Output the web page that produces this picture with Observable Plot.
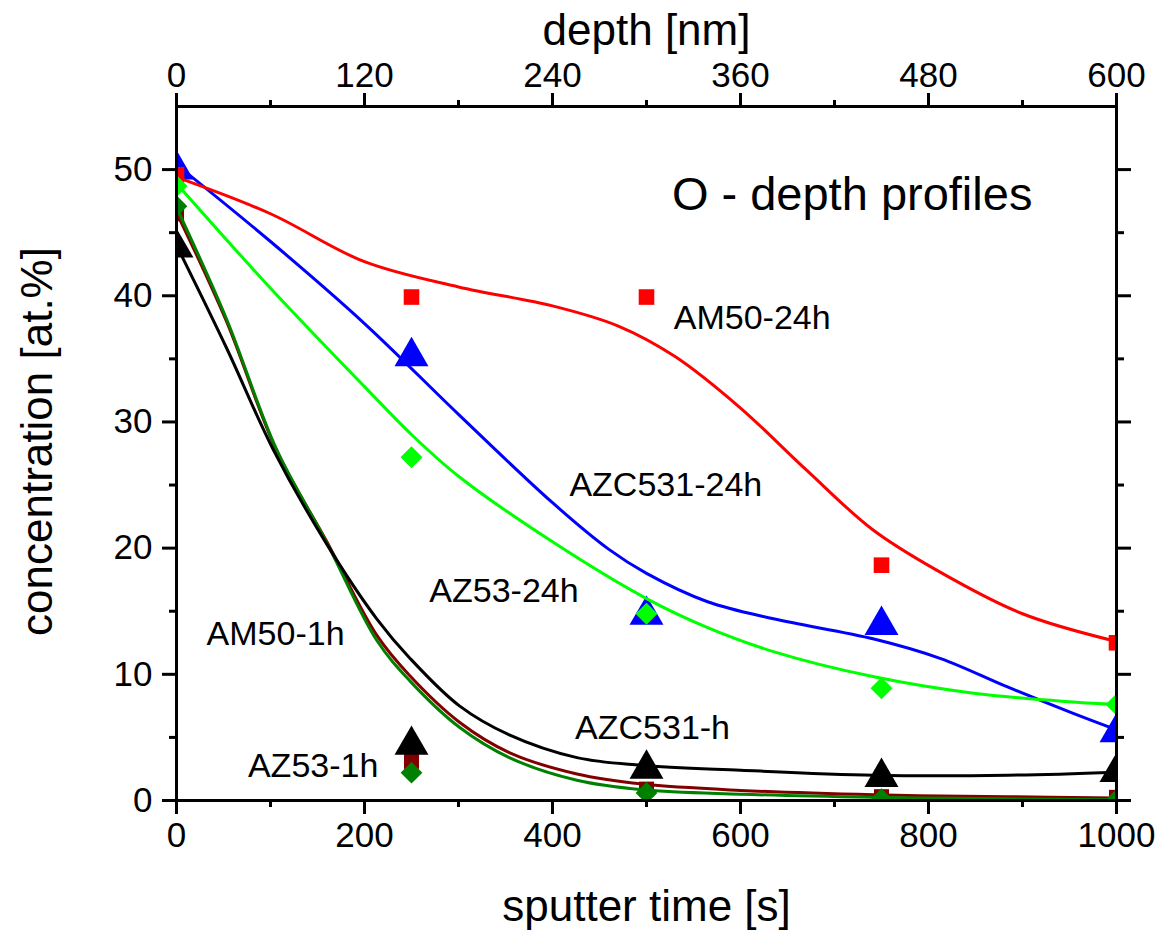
<!DOCTYPE html>
<html>
<head>
<meta charset="utf-8">
<script src="https://cdn.jsdelivr.net/npm/d3@7"></script>
<script src="https://cdn.jsdelivr.net/npm/@observablehq/plot@0.6"></script>
<style>
  body { margin: 0; background: #fff; }
  svg { display: block; }
</style>
</head>
<body>
<div id="chart"></div>
<script>
// Measured O concentration [at.%] at each sputter time [s]
const sputterTime = [0, 250, 500, 750, 1000];
const am50_24h   = [49.6, 39.9, 39.9, 18.65, 12.5];
const azc531_24h = [50.0, 35.2, 14.7, 13.9, 5.4];
const az53_24h   = [48.7, 27.2, 14.8, 8.9, 7.6];
const am50_1h    = [46.5, 3.1, 0.9, 0.3, 0.25];
const az53_1h    = [47.1, 2.2, 0.6, 0.1, 0.05];
const azc531_1h  = [43.8, 4.4, 2.5, 1.85, 2.25];

// Smoothed profile curves: sputter time [s] and concentration [at.%]
const fitAm50_24h_t = [0, 100, 200, 300, 400, 470, 530, 600, 670, 740, 810, 900, 1000];
const fitAm50_24h_v = [49.4, 46.5, 42.7, 40.7, 39.2, 37.6, 35.2, 31.1, 26.2, 21.5, 18.2, 14.8, 12.6];

const fitAzc531_24h_t = [0, 100, 200, 300, 400, 460, 500, 565, 635, 742, 813, 884, 954, 1000];
const fitAzc531_24h_v = [50.4, 44.3, 37.8, 30.6, 23.6, 19.9, 18.0, 15.75, 14.4, 12.8, 11.25, 9.0, 6.9, 5.6];

const fitAz53_24h_t = [0, 100, 200, 250, 300, 400, 500, 565, 635, 742, 848, 954, 1000];
const fitAz53_24h_v = [48.9, 40.6, 32.8, 29.0, 25.7, 20.5, 16.0, 13.7, 11.8, 9.8, 8.5, 7.8, 7.6];

const fitAm50_1h_t = [0, 53, 106, 160, 213, 248, 301, 354, 426, 496, 600, 742, 884, 1000];
const fitAm50_1h_v = [46.6, 38.0, 27.8, 20.5, 13.1, 9.9, 6.2, 3.8, 2.1, 1.3, 0.8, 0.45, 0.3, 0.2];

const fitAz53_1h_t = [0, 53, 106, 160, 213, 248, 301, 354, 426, 496, 600, 742, 884, 1000];
const fitAz53_1h_v = [47.0, 38.2, 27.9, 20.4, 12.7, 9.5, 5.8, 3.4, 1.6, 0.85, 0.5, 0.25, 0.13, 0.05];

const fitAzc531_1h_t = [0, 53, 103, 160, 213, 248, 301, 354, 426, 494, 600, 742, 884, 1000];
const fitAzc531_1h_v = [44.0, 35.9, 27.8, 20.3, 14.4, 11.3, 7.5, 5.2, 3.4, 2.8, 2.4, 2.0, 2.0, 2.25];

// Series annotations, placed in data coordinates
const labelText = ["AM50-24h", "AZC531-24h", "AZ53-24h", "AM50-1h", "AZ53-1h", "AZC531-h"];
const labelTime = [529, 418, 269, 32, 76, 424];
const labelConc = [38.2, 25.0, 16.6, 13.2, 2.7, 5.7];

// Axis ticks
const timeTicks = [0, 200, 400, 600, 800, 1000];
const timeMinorTicks = [100, 300, 500, 700, 900];
const depthTickLabels = ["0", "120", "240", "360", "480", "600"];
const concTicks = [0, 10, 20, 30, 40, 50];
const concMinorTicks = [5, 15, 25, 35, 45];

const zip = (ts, vs) => ts.map((t, i) => ({t, v: vs[i]}));

const series = [
  {pts: azc531_24h, ft: fitAzc531_24h_t, fv: fitAzc531_24h_v, color: "#0000ff", symbol: "triangle", r: 12.6},
  {pts: am50_24h,   ft: fitAm50_24h_t,   fv: fitAm50_24h_v,   color: "#ff0000", symbol: "square",   r: 8.8},
  {pts: az53_24h,   ft: fitAz53_24h_t,   fv: fitAz53_24h_v,   color: "#00ff00", symbol: "diamond2", r: 9.9},
  {pts: am50_1h,    ft: fitAm50_1h_t,    fv: fitAm50_1h_v,    color: "#800000", symbol: "square",   r: 8.5},
  {pts: az53_1h,    ft: fitAz53_1h_t,    fv: fitAz53_1h_v,    color: "#008000", symbol: "diamond2", r: 9.8},
  {pts: azc531_1h,  ft: fitAzc531_1h_t,  fv: fitAzc531_1h_v,  color: "#000000", symbol: "triangle", r: 12.6}
];

const seriesMarks = series.flatMap(s => [
  Plot.line(zip(s.ft, s.fv), {x: "t", y: "v", stroke: s.color, strokeWidth: 3, curve: "catmull-rom", clip: true}),
  Plot.dot(zip(sputterTime, s.pts), {x: "t", y: "v", symbol: s.symbol, r: s.r, fill: s.color, stroke: "none", clip: true})
]);

const labels = labelText.map((name, i) => ({name, t: labelTime[i], v: labelConc[i]}));

const chart = Plot.plot({
  width: 1168,
  height: 932,
  marginLeft: 176,
  marginRight: 52,
  marginTop: 106,
  marginBottom: 132,
  style: {fontFamily: "'Liberation Sans', Arial, sans-serif", fontSize: "35px", background: "#fff", color: "#000"},
  x: {domain: [0, 1000]},
  y: {domain: [0, 55]},
  marks: [
    ...seriesMarks,
    Plot.text(labels, {x: "t", y: "v", text: "name", textAnchor: "start", lineAnchor: "middle", fontSize: 34, fill: "#000"}),
    Plot.text(["O - depth profiles"], {x: () => 527, y: () => 48.0, textAnchor: "start", lineAnchor: "middle", fontSize: 47, fill: "#000"}),
    // bottom axis: sputter time
    Plot.axisX({anchor: "bottom", ticks: timeTicks, tickSize: 14, tickPadding: 8, strokeWidth: 3, fontSize: 35, label: null,
                tickFormat: d => String(d)}),
    Plot.axisX({anchor: "bottom", ticks: timeMinorTicks, tickSize: 7, strokeWidth: 3, tickFormat: () => "", label: null}),
    // top axis: depth
    Plot.axisX({anchor: "top", ticks: timeTicks, tickSize: 14, tickPadding: 6, strokeWidth: 3, fontSize: 35, label: null,
                tickFormat: d => depthTickLabels[timeTicks.indexOf(d)]}),
    Plot.axisX({anchor: "top", ticks: timeMinorTicks, tickSize: 7, strokeWidth: 3, tickFormat: () => "", label: null}),
    // left and right axes: concentration
    Plot.axisY({anchor: "left", ticks: concTicks, tickSize: 14, tickPadding: 10, strokeWidth: 3, fontSize: 35, label: null}),
    Plot.axisY({anchor: "left", ticks: concMinorTicks, tickSize: 7, strokeWidth: 3, tickFormat: () => "", label: null}),
    Plot.axisY({anchor: "right", ticks: concTicks, tickSize: 14, strokeWidth: 3, tickFormat: () => "", label: null}),
    Plot.axisY({anchor: "right", ticks: concMinorTicks, tickSize: 7, strokeWidth: 3, tickFormat: () => "", label: null}),
    Plot.frame({stroke: "#000", strokeWidth: 3}),
    // axis titles
    Plot.text(["sputter time [s]"], {frameAnchor: "bottom", dy: 106, lineAnchor: "middle", textAnchor: "middle", fontSize: 44, fill: "#000"}),
    Plot.text(["depth [nm]"], {frameAnchor: "top", dy: -76, lineAnchor: "middle", textAnchor: "middle", fontSize: 44, fill: "#000"}),
    Plot.text(["concentration [at.%]"], {frameAnchor: "left", dx: -139, dy: -12, rotate: -90, lineAnchor: "middle", textAnchor: "middle", fontSize: 44, fill: "#000"})
  ]
});

document.getElementById("chart").appendChild(chart);
</script>
</body>
</html>
